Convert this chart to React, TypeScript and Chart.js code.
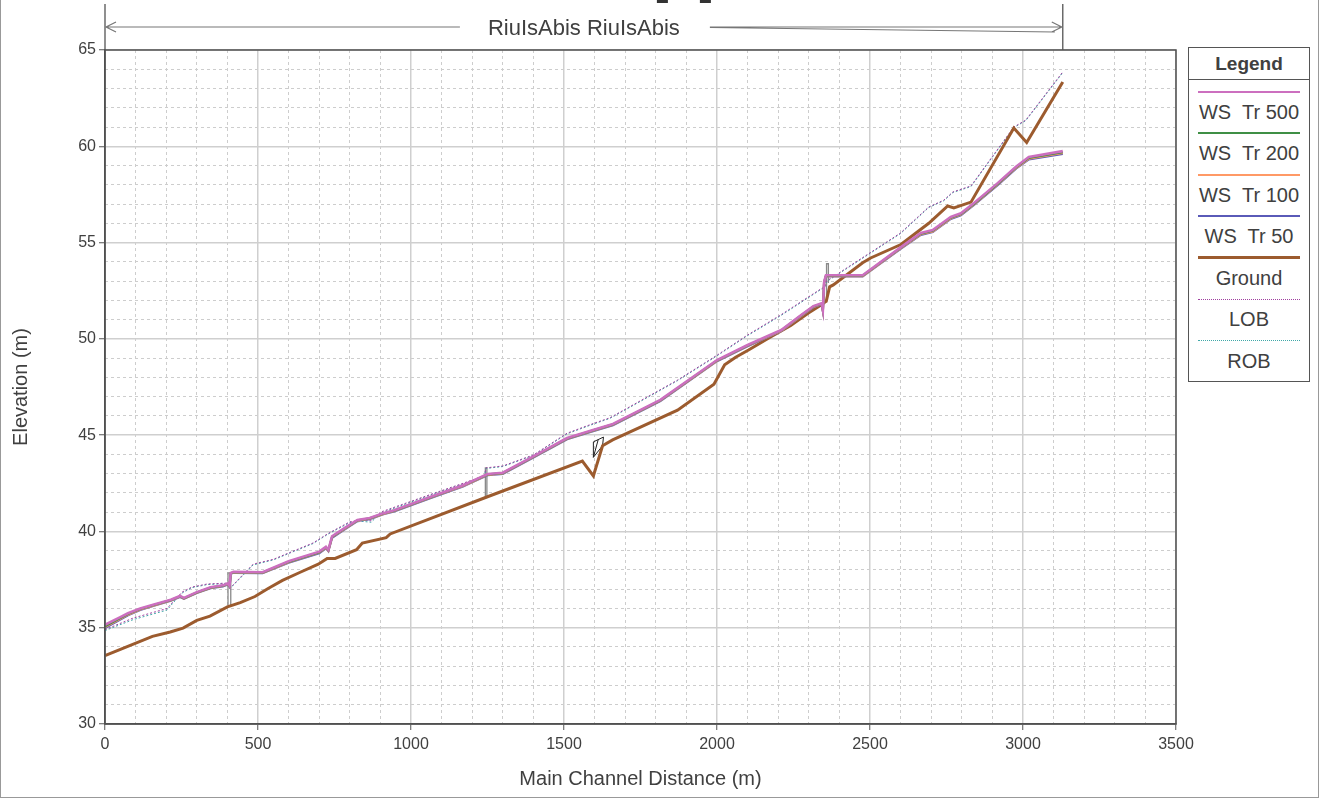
import React, { useEffect, useRef } from 'react';
import { Chart, registerables } from 'chart.js';

Chart.register(...registerables);

const FONT = "'Liberation Sans', Arial, Helvetica, sans-serif";
const TEXT = '#404040';

// ---- labels / ticks ----
const reachTitle = 'RiuIsAbis RiuIsAbis';
const reachLimits = [0, 3130];
const xTickValues = [0, 500, 1000, 1500, 2000, 2500, 3000, 3500];
const yTickValues = [30, 35, 40, 45, 50, 55, 60, 65];
const xTitle = 'Main Channel Distance (m)';
const yTitle = 'Elevation (m)';
const seriesLabels = ['WS  Tr 500', 'WS  Tr 200', 'WS  Tr 100', 'WS  Tr 50', 'Ground', 'LOB', 'ROB'];

// ---- water surface profiles ----
const wsStations = [0, 50, 75, 115, 160, 215, 245, 258, 300, 345, 385, 402, 407, 411, 420, 515, 600, 700, 722, 730, 742, 785, 825, 865, 910, 945, 1065, 1170, 1205, 1250, 1300, 1400, 1510, 1595, 1660, 1815, 2000, 2100, 2210, 2275, 2315, 2342, 2346, 2350, 2356, 2476, 2600, 2666, 2705, 2764, 2797, 2840, 2918, 2977, 3019, 3130];
const ws500 = [35.15, 35.55, 35.75, 36.0, 36.2, 36.45, 36.65, 36.55, 36.85, 37.1, 37.2, 37.3, 37.18, 37.85, 37.9, 37.88, 38.45, 38.95, 39.2, 39.05, 39.75, 40.2, 40.6, 40.7, 40.95, 41.1, 41.8, 42.4, 42.65, 42.98, 43.05, 43.9, 44.85, 45.27, 45.58, 46.83, 48.9, 49.68, 50.46, 51.24, 51.7, 51.85, 51.5, 52.95, 53.3, 53.3, 54.75, 55.5, 55.65, 56.33, 56.52, 57.05, 58.1, 58.94, 59.44, 59.75];
const ws200 = [35.08, 35.5, 35.71, 35.97, 36.18, 36.43, 36.63, 36.53, 36.83, 37.08, 37.18, 37.28, 37.16, 37.83, 37.88, 37.86, 38.42, 38.92, 39.17, 39.02, 39.72, 40.17, 40.58, 40.68, 40.93, 41.08, 41.78, 42.38, 42.63, 42.96, 43.03, 43.88, 44.83, 45.25, 45.56, 46.81, 48.88, 49.66, 50.44, 51.22, 51.68, 51.83, 51.48, 52.93, 53.28, 53.28, 54.72, 55.46, 55.61, 56.29, 56.48, 57.01, 58.06, 58.9, 59.4, 59.7];
const ws100 = [35.03, 35.46, 35.68, 35.95, 36.16, 36.42, 36.62, 36.52, 36.82, 37.07, 37.17, 37.27, 37.15, 37.82, 37.87, 37.85, 38.4, 38.9, 39.15, 39.0, 39.7, 40.15, 40.56, 40.66, 40.91, 41.06, 41.76, 42.36, 42.61, 42.94, 43.01, 43.86, 44.81, 45.23, 45.54, 46.79, 48.86, 49.64, 50.42, 51.2, 51.66, 51.81, 51.46, 52.91, 53.26, 53.26, 54.7, 55.43, 55.58, 56.26, 56.45, 56.98, 58.03, 58.87, 59.36, 59.65];
const ws50 = [34.98, 35.42, 35.65, 35.92, 36.14, 36.4, 36.6, 36.5, 36.8, 37.05, 37.15, 37.25, 37.13, 37.8, 37.85, 37.83, 38.37, 38.87, 39.12, 38.97, 39.67, 40.12, 40.54, 40.64, 40.89, 41.04, 41.74, 42.34, 42.59, 42.92, 42.99, 43.84, 44.79, 45.21, 45.52, 46.77, 48.84, 49.62, 50.4, 51.18, 51.64, 51.79, 51.44, 52.89, 53.24, 53.24, 54.67, 55.4, 55.55, 56.23, 56.42, 56.95, 58.0, 58.84, 59.32, 59.6];

// ---- ground profile ----
const groundStations = [0, 155, 213, 255, 300, 343, 400, 442, 490, 533, 580, 638, 697, 726, 752, 822, 841, 919, 932, 1250, 1560, 1596, 1626, 1659, 1871, 1990, 2025, 2061, 2103, 2175, 2241, 2300, 2340, 2352, 2357, 2368, 2380, 2476, 2502, 2601, 2692, 2754, 2774, 2830, 2970, 3012, 3130];
const groundElev = [33.55, 34.55, 34.78, 34.98, 35.38, 35.6, 36.08, 36.3, 36.62, 37.04, 37.46, 37.88, 38.3, 38.6, 38.6, 39.05, 39.4, 39.68, 39.87, 41.8, 43.65, 42.88, 44.45, 44.75, 46.3, 47.65, 48.65, 49.05, 49.42, 50.1, 50.7, 51.35, 51.76, 51.9, 51.95, 52.7, 52.8, 53.95, 54.2, 54.9, 56.0, 56.9, 56.8, 57.1, 60.95, 60.2, 63.34];

// ---- bank stations ----
const bankStations = [0, 92, 203, 222, 252, 284, 334, 402, 409, 484, 550, 600, 680, 730, 800, 840, 870, 900, 1060, 1170, 1240, 1245, 1300, 1400, 1510, 1595, 1650, 1870, 2000, 2100, 2208, 2340, 2352, 2358, 2600, 2692, 2741, 2771, 2830, 2970, 3009, 3130];
const lobElev = [34.9, 35.5, 36.0, 36.34, 36.85, 37.11, 37.27, 37.32, 37.06, 38.3, 38.55, 38.88, 39.4, 39.9, 40.5, 40.6, 40.55, 41.0, 41.9, 42.5, 42.9, 43.3, 43.4, 43.97, 45.1, 45.6, 45.9, 47.85, 49.15, 50.2, 51.24, 52.6, 52.7, 53.0, 55.5, 56.85, 57.2, 57.63, 57.94, 61.0, 61.36, 63.86];
const robElev = [34.85, 35.42, 35.92, 36.28, 36.8, 37.08, 37.24, 37.3, 37.04, 38.26, 38.52, 38.85, 39.37, 39.87, 40.46, 40.52, 40.48, 40.95, 41.87, 42.47, 42.88, 43.27, 43.37, 43.95, 45.07, 45.57, 45.87, 47.82, 49.12, 50.17, 51.2, 52.57, 52.67, 52.97, 55.47, 56.82, 57.17, 57.6, 57.91, 60.97, 61.33, 63.83];

// ---- structures (bridges / culvert) ----
const bridgeAStations = [402, 402, 411, 411];
const bridgeAElev = [36.15, 37.85, 37.85, 36.15];
const bridgeBStations = [1243, 1243, 1248, 1248];
const bridgeBElev = [41.75, 43.3, 43.3, 41.75];
const culvertStations = [1596, 1596, 1629, 1626, 1596, 1612];
const culvertElev = [43.85, 44.65, 44.9, 44.45, 43.85, 44.78];
const bridgeCStations = [2358, 2358, 2364, 2364];
const bridgeCElev = [52.0, 53.9, 53.9, 52.9];

// ---- styles ----
const seriesColors = ['#cc6fbf', '#3f8f45', '#ff9966', '#5a5ab8', '#9c5b2e', '#a040a0', '#40a8a8'];
const seriesWidths = [2.6, 2.2, 2.2, 2.2, 3, 1, 1];

const toPoints = (xs: number[], ys: number[]) => xs.map((x, i) => ({ x, y: ys[i] }));

const makeDs = (label: string, xs: number[], ys: number[], color: string, width: number, dash: number[] = []) => ({
  label,
  data: toPoints(xs, ys),
  borderColor: color,
  backgroundColor: color,
  borderWidth: width,
  borderDash: dash,
  pointRadius: 0,
  pointHoverRadius: 0,
  fill: false,
  tension: 0,
});

const framePlugin = {
  id: 'framePlugin',
  afterDatasetsDraw(chart: any) {
    const { ctx, chartArea: a } = chart;
    ctx.save();
    ctx.strokeStyle = '#505050';
    ctx.lineWidth = 1.5;
    ctx.strokeRect(a.left, a.top, a.right - a.left, a.bottom - a.top);
    ctx.restore();
  },
  afterDraw(chart: any) {
    const { ctx, chartArea: a, scales } = chart;
    const x0 = scales.x.getPixelForValue(reachLimits[0]);
    const x1 = scales.x.getPixelForValue(reachLimits[1]);
    const yA = 27;
    ctx.save();
    ctx.font = `22px ${FONT}`;
    const tw = ctx.measureText(reachTitle).width;
    const cx = (x0 + x1) / 2;
    ctx.strokeStyle = '#555';
    ctx.lineWidth = 1.3;
    ctx.beginPath();
    ctx.moveTo(x0, 4); ctx.lineTo(x0, a.top);
    ctx.moveTo(x1, 4); ctx.lineTo(x1, a.top);
    ctx.stroke();
    ctx.strokeStyle = '#777';
    ctx.lineWidth = 1.2;
    ctx.beginPath();
    ctx.moveTo(x0 + 1, yA); ctx.lineTo(cx - tw / 2 - 28, yA);
    ctx.moveTo(cx + tw / 2 + 30, yA); ctx.lineTo(x1 - 1, yA);
    ctx.moveTo(cx + tw / 2 + 30, yA + 0.5); ctx.lineTo(x1 - 8, yA + 5);
    ctx.moveTo(x0 + 11, yA - 5); ctx.lineTo(x0 + 1, yA); ctx.lineTo(x0 + 11, yA + 5);
    ctx.moveTo(x1 - 11, yA - 5); ctx.lineTo(x1 - 1, yA); ctx.lineTo(x1 - 11, yA + 5);
    ctx.stroke();
    ctx.fillStyle = TEXT;
    ctx.textAlign = 'center';
    ctx.textBaseline = 'middle';
    ctx.fillText(reachTitle, cx, yA + 2);
    ctx.fillStyle = '#333';
    ctx.fillRect(cx + 73, 0, 11, 3);
    ctx.fillRect(cx + 116, 0, 11, 3);
    ctx.restore();
  },
};

export default function App() {
  const ref = useRef<HTMLCanvasElement>(null);

  useEffect(() => {
    document.body.style.margin = '0';
    const tickFont = { family: FONT, size: 16 };
    const titleFont = { family: FONT, size: 20 };
    const datasets = [
      makeDs(seriesLabels[0], wsStations, ws500, seriesColors[0], seriesWidths[0]),
      makeDs(seriesLabels[1], wsStations, ws200, seriesColors[1], seriesWidths[1]),
      makeDs(seriesLabels[2], wsStations, ws100, seriesColors[2], seriesWidths[2]),
      makeDs(seriesLabels[3], wsStations, ws50, seriesColors[3], seriesWidths[3]),
      makeDs(seriesLabels[4], groundStations, groundElev, seriesColors[4], seriesWidths[4]),
      makeDs(seriesLabels[5], bankStations, lobElev, seriesColors[5], seriesWidths[5], [2, 2]),
      makeDs(seriesLabels[6], bankStations, robElev, seriesColors[6], seriesWidths[6], [2, 2]),
      makeDs('bridgeA', bridgeAStations, bridgeAElev, '#8a8a8a', 1.3),
      makeDs('bridgeB', bridgeBStations, bridgeBElev, '#8a8a8a', 1.3),
      makeDs('culvert', culvertStations, culvertElev, '#222', 1),
      makeDs('bridgeC', bridgeCStations, bridgeCElev, '#8a8a8a', 1.3),
    ];
    const chart = new Chart(ref.current as HTMLCanvasElement, {
      type: 'line',
      data: { datasets: datasets as any },
      options: {
        animation: false,
        responsive: false,
        maintainAspectRatio: false,
        events: [],
        layout: { padding: { left: 0, right: 143, top: 50, bottom: 0 } },
        plugins: { legend: { display: false }, tooltip: { enabled: false }, title: { display: false } },
        scales: {
          xMinor: {
            type: 'linear', position: 'bottom', min: 0, max: 3500,
            ticks: { stepSize: 100, display: false },
            grid: {
              drawTicks: false, lineWidth: 1,
              color: (c: any) => (c.tick && c.tick.value % 500 === 0 ? 'rgba(0,0,0,0)' : '#cdcdcd'),
            },
            border: { display: false, dash: [3, 3] },
            afterFit: (s: any) => { s.height = 0; },
          },
          yMinor: {
            type: 'linear', position: 'left', min: 30, max: 65,
            ticks: { stepSize: 1, display: false },
            grid: {
              drawTicks: false, lineWidth: 1,
              color: (c: any) => (c.tick && c.tick.value % 5 === 0 ? 'rgba(0,0,0,0)' : '#cdcdcd'),
            },
            border: { display: false, dash: [3, 3] },
            afterFit: (s: any) => { s.width = 0; },
          },
          x: {
            type: 'linear', position: 'bottom', min: xTickValues[0], max: xTickValues[xTickValues.length - 1],
            afterBuildTicks: (s: any) => { s.ticks = xTickValues.map((v) => ({ value: v })); },
            ticks: { font: tickFont, color: TEXT, padding: 5, maxRotation: 0, autoSkip: false, callback: (v: any) => String(v) },
            grid: { color: '#cfcfcf', lineWidth: 1.5, tickLength: 6, tickColor: '#555', tickWidth: 1 },
            border: { display: true, color: '#505050', width: 1.5 },
            title: { display: true, text: xTitle, font: titleFont, color: TEXT, padding: { top: 0, bottom: 7 } },
            afterFit: (s: any) => { s.height = 74; },
          },
          y: {
            type: 'linear', position: 'left', min: yTickValues[0], max: yTickValues[yTickValues.length - 1],
            afterBuildTicks: (s: any) => { s.ticks = yTickValues.map((v) => ({ value: v })); },
            ticks: { font: tickFont, color: TEXT, padding: 3, autoSkip: false, callback: (v: any) => String(v) },
            grid: { color: '#cfcfcf', lineWidth: 1.5, tickLength: 6, tickColor: '#555', tickWidth: 1 },
            border: { display: true, color: '#505050', width: 1.5 },
            title: { display: true, text: yTitle, font: titleFont, color: TEXT, padding: { top: 9, bottom: 0 } },
            afterFit: (s: any) => { s.width = 105; },
          },
        },
      } as any,
      plugins: [framePlugin as any],
    });
    return () => chart.destroy();
  }, []);

  const legendItems = seriesLabels.map((label, i) => ({
    label,
    color: seriesColors[i],
    width: i === 4 ? 3 : i < 4 ? 2 : 1,
    dotted: i >= 5,
  }));

  return (
    <div style={{ position: 'absolute', left: 0, top: 0, width: 1319, height: 798, overflow: 'hidden', background: '#fff' }}>
      <canvas ref={ref} width={1319} height={798} style={{ position: 'absolute', left: 0, top: 0, width: 1319, height: 798 }} />
      <div
        style={{
          position: 'absolute', left: 1188, top: 47, width: 122, height: 335,
          border: '1px solid #555', boxSizing: 'border-box', background: '#fff', fontFamily: FONT, color: TEXT,
        }}
      >
        <div style={{ height: 31, borderBottom: '1px solid #555', textAlign: 'center', fontWeight: 'bold', fontSize: 19, lineHeight: '31px' }}>
          Legend
        </div>
        {legendItems.map((it, i) => (
          <React.Fragment key={it.label}>
            <div
              style={{
                position: 'absolute', left: 9, width: 102, top: 43.7 + i * 41.5 - it.width / 2, height: 0,
                borderTop: `${it.width}px ${it.dotted ? 'dotted' : 'solid'} ${it.color}`,
              }}
            />
            <div
              style={{
                position: 'absolute', left: 0, width: 120, top: 51.7 + i * 41.5, height: 24, lineHeight: '24px',
                textAlign: 'center', fontSize: 20, whiteSpace: 'pre',
              }}
            >
              {it.label}
            </div>
          </React.Fragment>
        ))}
      </div>
      <div
        style={{
          position: 'absolute', left: 0, top: -2, width: 1319, height: 800, boxSizing: 'border-box',
          borderLeft: '1px solid #999', borderRight: '1px solid #999', borderBottom: '1px solid #999', pointerEvents: 'none',
        }}
      />
    </div>
  );
}
